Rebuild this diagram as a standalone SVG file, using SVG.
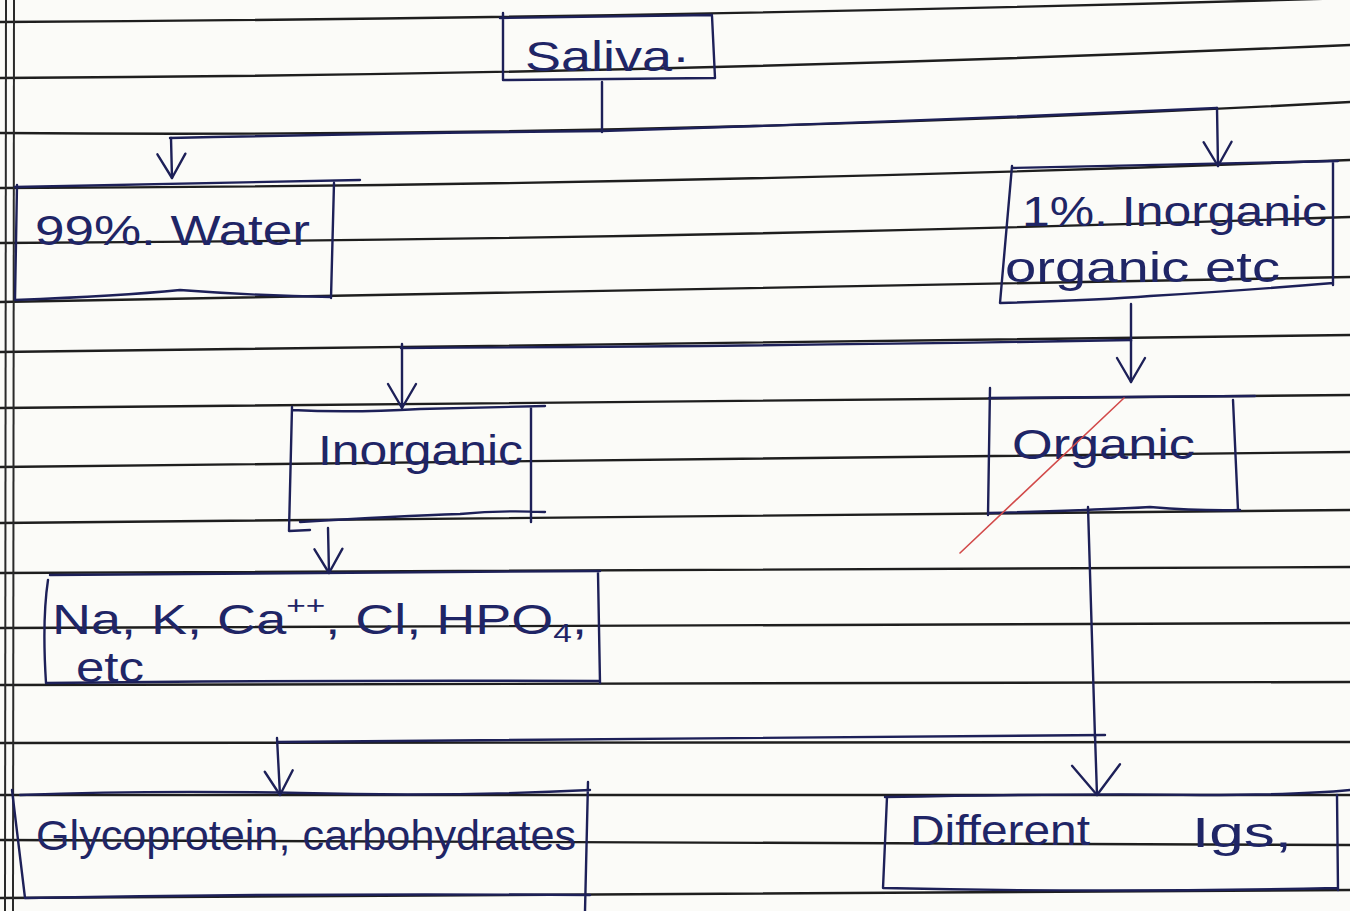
<svg xmlns="http://www.w3.org/2000/svg" width="1350" height="911" viewBox="0 0 1350 911">
  <defs>
    <style>
      .rule { fill: none; stroke: #1e1e1e; stroke-width: 2.4; stroke-linecap: round; }
      .margin { fill: none; stroke: #2a2a2a; stroke-width: 2; }
      .pen { fill: none; stroke: #1d2058; stroke-width: 2.4; stroke-linecap: round; stroke-linejoin: round; }
      .red { fill: none; stroke: #d24a4a; stroke-width: 1.6; stroke-linecap: round; }
      .hand { font-family: "Liberation Sans", "DejaVu Sans", sans-serif; fill: #1f2566; font-size: 42px; }
    </style>
    <marker id="vhead" viewBox="-26 -18 30 36" markerWidth="30" markerHeight="36" refX="0" refY="0" orient="auto" markerUnits="userSpaceOnUse">
      <path d="M-24,-14 L0,0 L-24,14" fill="none" stroke="#1d2058" stroke-width="2.4" stroke-linecap="round" stroke-linejoin="round"/>
    </marker>
    <marker id="vheadWide" viewBox="-34 -26 38 52" markerWidth="38" markerHeight="52" refX="0" refY="0" orient="auto" markerUnits="userSpaceOnUse">
      <path d="M-30,-24 L0,0 L-30,24" fill="none" stroke="#1d2058" stroke-width="2.4" stroke-linecap="round" stroke-linejoin="round"/>
    </marker>
  </defs>

  <!-- notebook page -->
  <rect x="0" y="0" width="1350" height="911" fill="#fbfbf8"/>
  <g id="ruled-lines">
    <path class="rule" d="M0 22 Q675 18 1350 -2"/>
    <path class="rule" d="M0 78 Q675 74.5 1350 45"/>
    <path class="rule" d="M0 133 Q675 138.5 1350 102"/>
    <path class="rule" d="M0 188 Q675 186 1350 160"/>
    <path class="rule" d="M0 243 Q675 240 1350 217"/>
    <path class="rule" d="M0 302 Q675 292.5 1350 277"/>
    <path class="rule" d="M0 352 Q675 342.5 1350 335"/>
    <path class="rule" d="M0 408 Q675 398.5 1350 395"/>
    <path class="rule" d="M0 467 Q675 456.5 1350 452"/>
    <path class="rule" d="M0 523 Q675 517.5 1350 510"/>
    <path class="rule" d="M0 573 Q675 570 1350 567"/>
    <path class="rule" d="M0 628 Q675 624.5 1350 623"/>
    <path class="rule" d="M0 685 Q675 682.5 1350 682"/>
    <path class="rule" d="M0 743 Q675 742 1350 742"/>
    <path class="rule" d="M0 795 Q675 795 1350 795"/>
    <path class="rule" d="M0 840 Q675 843.5 1350 845"/>
    <path class="rule" d="M0 898 Q675 892 1350 890"/>
  </g>
  <g id="margin">
    <path class="margin" d="M6 0 L5 911"/>
    <path class="margin" d="M14 0 L13 911"/>
  </g>

  <!-- connectors -->
  <g id="connectors">
    <path class="pen" d="M602 82 L602 132"/>
    <path class="pen" d="M170 138 Q400 133 602 131 Q900 122 1217 108"/>
    <path class="pen" d="M171 138 L172 178" marker-end="url(#vhead)"/>
    <path class="pen" d="M1217 108 L1218 166" marker-end="url(#vhead)"/>

    <path class="pen" d="M1131 304 L1131 341"/>
    <path class="pen" d="M401 348 Q800 346 1131 340"/>
    <path class="pen" d="M402 344 L402 408" marker-end="url(#vhead)"/>
    <path class="pen" d="M1131 340 L1131 382" marker-end="url(#vhead)"/>

    <path class="pen" d="M328 528 L329 573" marker-end="url(#vhead)"/>

    <path class="pen" d="M1088 507 L1095 738"/>
    <path class="pen" d="M278 742 Q700 737 1105 735"/>
    <path class="pen" d="M277 738 L280 795" marker-end="url(#vhead)"/>
    <path class="pen" d="M1095 735 L1097 795" marker-end="url(#vheadWide)"/>
  </g>

  <!-- nodes -->
  <g id="node-saliva">
    <path class="pen" d="M500 18 L712 15 M503 13 L503 80 L715 78 M712 16 L715 78"/>
    <text class="hand" x="525" y="71" font-size="44" textLength="165" lengthAdjust="spacingAndGlyphs">Saliva·</text>
  </g>

  <g id="node-water">
    <path class="pen" d="M15 187 L360 180 M17 185 L15 300 M334 183 L331 298 M15 300 Q120 296 180 290 Q260 296 331 297"/>
    <text class="hand" x="35" y="245" textLength="275" lengthAdjust="spacingAndGlyphs">99%. Water</text>
  </g>

  <g id="node-one-percent">
    <path class="pen" d="M1012 168 L1338 161 M1012 166 L1000 303 M1333 162 L1333 285 M1000 303 Q1100 300 1150 296 Q1250 290 1333 283"/>
    <text class="hand" x="1022" y="226" textLength="305" lengthAdjust="spacingAndGlyphs">1%. Inorganic</text>
    <text class="hand" x="1005" y="282" textLength="275" lengthAdjust="spacingAndGlyphs">organic etc</text>
  </g>

  <g id="node-inorganic">
    <path class="pen" d="M292 410 Q350 413 420 409 L545 406 M292 407 L289 531 L310 530 M531 407 L531 522 M300 522 Q400 516 460 514 Q500 510 545 512"/>
    <text class="hand" x="318" y="465" textLength="205" lengthAdjust="spacingAndGlyphs">Inorganic</text>
  </g>

  <g id="node-organic">
    <path class="pen" d="M989 398 L1255 396 M990 388 L988 515 M1233 400 L1238 510 M988 513 Q1100 510 1150 507 Q1200 511 1240 510"/>
    <text class="hand" x="1012" y="459" textLength="183" lengthAdjust="spacingAndGlyphs">Organic</text>
    <path class="red" d="M1124 398 L960 553"/>
  </g>

  <g id="node-ions">
    <path class="pen" d="M50 575 Q300 573 600 571 M48 580 Q42 620 46 683 M598 573 L600 683 M46 683 Q300 680 600 681"/>
    <text class="hand" x="52" y="634" font-size="42" textLength="535" lengthAdjust="spacingAndGlyphs">Na, K, Ca<tspan font-size="26" dy="-20">++</tspan><tspan dy="20">, Cl, HPO</tspan><tspan font-size="26" dy="8">4</tspan><tspan dy="-8">,</tspan></text>
    <text class="hand" x="76" y="682" font-size="36" textLength="68" lengthAdjust="spacingAndGlyphs">etc</text>
  </g>

  <g id="node-glycoprotein">
    <path class="pen" d="M20 795 Q150 790 300 793 Q450 797 590 790 M12 790 L25 898 M25 898 Q300 893 590 895 M588 782 L585 911"/>
    <text class="hand" x="36" y="850" font-size="36" textLength="540" lengthAdjust="spacingAndGlyphs">Glycoprotein, carbohydrates</text>
  </g>

  <g id="node-igs">
    <path class="pen" d="M885 797 Q1100 793 1200 795 Q1300 795 1350 790 M887 797 L883 888 M1337 795 L1338 890 M883 888 Q1100 893 1337 888"/>
    <text class="hand" x="910" y="845" textLength="180" lengthAdjust="spacingAndGlyphs">Different</text>
    <text class="hand" x="1192" y="847" font-size="46" textLength="100" lengthAdjust="spacingAndGlyphs">Igs,</text>
  </g>
</svg>
